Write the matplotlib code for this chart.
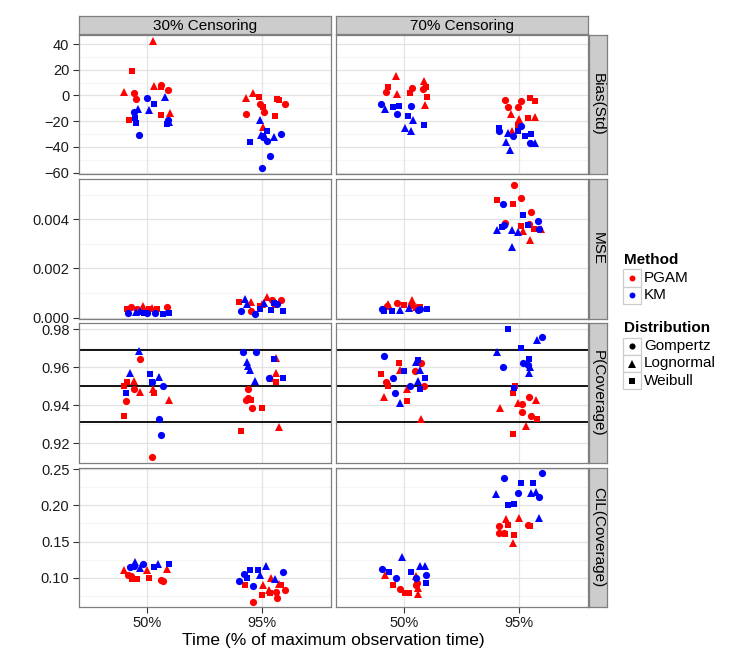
import numpy as np
import matplotlib.pyplot as plt
from matplotlib.patches import Rectangle

plt.rcParams['font.family'] = ['Liberation Sans', 'DejaVu Sans']

time_levels = ['50%', '95%']
censoring = ['30% Censoring', '70% Censoring']
measures = ['Bias(Std)', 'MSE', 'P(Coverage)', 'CIL(Coverage)']
methods = ['PGAM', 'KM']
method_codes = {'P': 'PGAM', 'K': 'KM'}
distributions = ['Gompertz', 'Lognormal', 'Weibull']
dist_codes = {'G': 'Gompertz', 'L': 'Lognormal', 'W': 'Weibull'}
coverage_lines = [0.9309, 0.95, 0.9691]

# (time, method, distribution, jitter, value)
bias_30 = [
    ('50%', 'P', 'L', 0.05, 42.3), ('50%', 'P', 'W', -0.13, 19.0), ('50%', 'P', 'L', -0.20, 3.0),
    ('50%', 'P', 'G', -0.12, 2.0), ('50%', 'P', 'G', -0.10, -2.6), ('50%', 'P', 'L', 0.06, 7.4),
    ('50%', 'P', 'G', 0.12, 8.5), ('50%', 'P', 'W', 0.12, 6.9), ('50%', 'P', 'G', 0.18, 4.1),
    ('50%', 'P', 'W', -0.16, -19.2), ('50%', 'P', 'W', 0.12, -14.9), ('50%', 'P', 'L', 0.20, -13.3),
    ('50%', 'K', 'G', 0.00, -1.8), ('50%', 'K', 'L', 0.15, -0.8), ('50%', 'K', 'W', 0.06, -6.7),
    ('50%', 'K', 'G', -0.12, -12.8), ('50%', 'K', 'L', -0.08, -10.8), ('50%', 'K', 'L', 0.01, -11.5),
    ('50%', 'K', 'W', -0.11, -17.2), ('50%', 'K', 'W', -0.10, -21.3), ('50%', 'K', 'G', 0.18, -19.2),
    ('50%', 'K', 'L', 0.19, -20.5), ('50%', 'K', 'W', 0.17, -22.3), ('50%', 'K', 'G', -0.07, -31.0),
    ('95%', 'P', 'L', -0.14, -1.8), ('95%', 'P', 'L', -0.08, 1.8), ('95%', 'P', 'W', -0.03, -0.8),
    ('95%', 'P', 'G', -0.02, -6.9), ('95%', 'P', 'W', 0.01, -9.0), ('95%', 'P', 'G', 0.02, -12.8),
    ('95%', 'P', 'G', -0.14, -14.1), ('95%', 'P', 'W', 0.13, -2.8), ('95%', 'P', 'W', 0.15, -3.3),
    ('95%', 'P', 'G', 0.20, -6.9), ('95%', 'P', 'W', 0.11, -15.6), ('95%', 'P', 'L', 0.01, -24.4),
    ('95%', 'K', 'L', -0.02, -18.7), ('95%', 'K', 'W', 0.04, -27.4), ('95%', 'K', 'L', -0.01, -30.8),
    ('95%', 'K', 'G', 0.01, -32.0), ('95%', 'K', 'L', 0.10, -32.6), ('95%', 'K', 'G', 0.16, -29.7),
    ('95%', 'K', 'G', 0.04, -35.1), ('95%', 'K', 'W', -0.11, -35.9), ('95%', 'K', 'G', 0.07, -46.9),
    ('95%', 'K', 'G', 0.00, -56.4), ('95%', 'K', 'W', 0.01, -31.5),
]
bias_70 = [
    ('50%', 'P', 'L', -0.07, 15.4), ('50%', 'P', 'W', -0.14, 6.9), ('50%', 'P', 'G', -0.16, 2.8),
    ('50%', 'P', 'L', -0.06, 0.8), ('50%', 'P', 'G', 0.07, 5.6), ('50%', 'P', 'W', 0.05, 1.8),
    ('50%', 'P', 'L', 0.17, 11.0), ('50%', 'P', 'G', 0.16, 4.8), ('50%', 'P', 'W', 0.19, 6.9),
    ('50%', 'P', 'W', 0.20, -0.8), ('50%', 'P', 'L', 0.18, -7.7), ('50%', 'P', 'L', 0.18, 8.5),
    ('50%', 'K', 'G', -0.20, -6.4), ('50%', 'K', 'L', -0.17, -10.5), ('50%', 'K', 'W', -0.10, -9.2),
    ('50%', 'K', 'W', -0.05, -8.5), ('50%', 'K', 'G', -0.06, -14.1), ('50%', 'K', 'G', 0.06, -7.9),
    ('50%', 'K', 'W', 0.03, -16.2), ('50%', 'K', 'L', 0.08, -18.7), ('50%', 'K', 'W', 0.17, -23.1),
    ('50%', 'K', 'L', 0.01, -25.6), ('50%', 'K', 'L', 0.06, -27.4),
    ('95%', 'P', 'G', -0.12, -3.8), ('95%', 'P', 'G', -0.09, -9.0), ('95%', 'P', 'G', 0.02, -4.4),
    ('95%', 'P', 'G', -0.01, -9.0), ('95%', 'P', 'W', 0.10, -2.0), ('95%', 'P', 'W', 0.14, -4.6),
    ('95%', 'P', 'L', -0.07, -14.6), ('95%', 'P', 'L', 0.00, -17.9), ('95%', 'P', 'W', 0.08, -17.2),
    ('95%', 'P', 'L', 0.14, -16.7), ('95%', 'P', 'W', -0.01, -23.1), ('95%', 'P', 'L', -0.06, -27.4),
    ('95%', 'K', 'W', -0.17, -24.9), ('95%', 'K', 'G', -0.17, -27.4), ('95%', 'K', 'G', -0.05, -31.5),
    ('95%', 'K', 'W', -0.01, -27.4), ('95%', 'K', 'G', 0.02, -23.8), ('95%', 'K', 'L', -0.09, -29.5),
    ('95%', 'K', 'L', -0.11, -35.9), ('95%', 'K', 'L', -0.08, -42.3), ('95%', 'K', 'W', 0.05, -31.5),
    ('95%', 'K', 'W', 0.11, -30.3), ('95%', 'K', 'G', 0.10, -36.7), ('95%', 'K', 'L', 0.14, -36.7),
]
mse_30 = [
    ('50%', 'P', 'W', -0.18, 0.00036), ('50%', 'P', 'G', -0.14, 0.00041), ('50%', 'P', 'L', -0.04, 0.00048),
    ('50%', 'P', 'W', 0.01, 0.00034), ('50%', 'P', 'W', 0.08, 0.00034), ('50%', 'P', 'G', 0.17, 0.00042),
    ('50%', 'P', 'L', 0.04, 0.00038), ('50%', 'P', 'G', -0.09, 0.00034),
    ('50%', 'K', 'G', -0.17, 0.00018), ('50%', 'K', 'L', -0.10, 0.00022), ('50%', 'K', 'L', -0.06, 0.00025),
    ('50%', 'K', 'W', -0.03, 0.00018), ('50%', 'K', 'G', 0.07, 0.00018), ('50%', 'K', 'W', 0.14, 0.00015),
    ('50%', 'K', 'W', 0.19, 0.00018), ('50%', 'K', 'G', 0.00, 0.00020),
    ('95%', 'P', 'W', -0.20, 0.00062), ('95%', 'P', 'L', -0.10, 0.00062), ('95%', 'P', 'G', -0.10, 0.00028),
    ('95%', 'P', 'W', -0.02, 0.00045), ('95%', 'P', 'L', 0.04, 0.00084), ('95%', 'P', 'G', 0.16, 0.00073),
    ('95%', 'P', 'W', 0.11, 0.00052), ('95%', 'P', 'L', 0.00, 0.00056), ('95%', 'P', 'G', 0.09, 0.00070),
    ('95%', 'K', 'L', -0.15, 0.00077), ('95%', 'K', 'L', -0.13, 0.00056), ('95%', 'K', 'G', -0.18, 0.00025),
    ('95%', 'K', 'G', -0.06, 0.00014), ('95%', 'K', 'W', -0.02, 0.00034), ('95%', 'K', 'L', 0.02, 0.00059),
    ('95%', 'K', 'W', 0.08, 0.00032), ('95%', 'K', 'W', 0.18, 0.00025), ('95%', 'K', 'G', 0.13, 0.00056),
    ('95%', 'K', 'W', 0.10, 0.00059),
]
mse_70 = [
    ('50%', 'P', 'L', -0.14, 0.00055), ('50%', 'P', 'G', -0.15, 0.00048), ('50%', 'P', 'G', -0.06, 0.00059),
    ('50%', 'P', 'W', 0.00, 0.00052), ('50%', 'P', 'L', 0.07, 0.00073), ('50%', 'P', 'G', 0.06, 0.00052),
    ('50%', 'P', 'W', 0.14, 0.00042), ('50%', 'P', 'L', 0.10, 0.00042),
    ('50%', 'K', 'G', -0.19, 0.00034), ('50%', 'K', 'W', -0.18, 0.00025), ('50%', 'K', 'W', -0.11, 0.00025),
    ('50%', 'K', 'L', -0.04, 0.00029), ('50%', 'K', 'L', 0.04, 0.00038), ('50%', 'K', 'G', 0.12, 0.00029),
    ('50%', 'K', 'W', 0.20, 0.00034), ('50%', 'K', 'G', 0.14, 0.00034),
    ('95%', 'P', 'G', -0.04, 0.00540), ('95%', 'P', 'W', -0.19, 0.00478), ('95%', 'P', 'G', 0.02, 0.00489),
    ('95%', 'P', 'W', -0.05, 0.00462), ('95%', 'P', 'G', 0.11, 0.00430), ('95%', 'P', 'G', -0.12, 0.00385),
    ('95%', 'P', 'W', 0.02, 0.00372), ('95%', 'P', 'L', 0.04, 0.00352), ('95%', 'P', 'W', 0.13, 0.00362),
    ('95%', 'P', 'L', 0.19, 0.00362), ('95%', 'P', 'L', 0.10, 0.00316), ('95%', 'P', 'G', 0.09, 0.00380),
    ('95%', 'K', 'G', -0.14, 0.00465), ('95%', 'K', 'W', 0.04, 0.00417), ('95%', 'K', 'G', 0.17, 0.00395),
    ('95%', 'K', 'W', 0.08, 0.00378), ('95%', 'K', 'G', 0.18, 0.00362), ('95%', 'K', 'G', -0.13, 0.00378),
    ('95%', 'K', 'L', -0.19, 0.00355), ('95%', 'K', 'L', -0.06, 0.00355), ('95%', 'K', 'L', -0.01, 0.00348),
    ('95%', 'K', 'L', -0.06, 0.00289), ('95%', 'K', 'W', -0.15, 0.00370),
]
cov_30 = [
    ('50%', 'P', 'G', -0.06, 0.9640), ('50%', 'P', 'W', -0.18, 0.9523), ('50%', 'P', 'W', -0.20, 0.9500),
    ('50%', 'P', 'L', -0.12, 0.9526), ('50%', 'P', 'G', -0.12, 0.9483), ('50%', 'P', 'L', -0.06, 0.9467),
    ('50%', 'P', 'L', 0.05, 0.9483), ('50%', 'P', 'W', 0.06, 0.9462), ('50%', 'P', 'G', -0.19, 0.9423),
    ('50%', 'P', 'L', 0.19, 0.9426), ('50%', 'P', 'W', -0.20, 0.9342), ('50%', 'P', 'G', 0.04, 0.9128),
    ('50%', 'K', 'L', -0.07, 0.9686), ('50%', 'K', 'L', -0.15, 0.9567), ('50%', 'K', 'W', 0.02, 0.9562),
    ('50%', 'K', 'L', 0.10, 0.9546), ('50%', 'K', 'G', 0.04, 0.9523), ('50%', 'K', 'G', 0.14, 0.9502),
    ('50%', 'K', 'W', -0.19, 0.9462), ('50%', 'K', 'G', 0.10, 0.9325), ('50%', 'K', 'G', 0.12, 0.9244),
    ('50%', 'K', 'W', 0.04, 0.9523),
    ('95%', 'P', 'L', 0.12, 0.9646), ('95%', 'P', 'L', 0.12, 0.9567), ('95%', 'P', 'L', 0.08, 0.9544),
    ('95%', 'P', 'W', 0.12, 0.9523), ('95%', 'P', 'G', -0.12, 0.9483), ('95%', 'P', 'G', -0.12, 0.9435),
    ('95%', 'P', 'W', -0.10, 0.9426), ('95%', 'P', 'G', -0.09, 0.9383), ('95%', 'P', 'W', 0.00, 0.9383),
    ('95%', 'P', 'W', -0.18, 0.9265), ('95%', 'P', 'L', 0.15, 0.9286), ('95%', 'P', 'G', -0.14, 0.9426),
    ('95%', 'K', 'G', -0.17, 0.9681), ('95%', 'K', 'G', -0.05, 0.9681), ('95%', 'K', 'L', -0.13, 0.9628),
    ('95%', 'K', 'L', -0.12, 0.9605), ('95%', 'K', 'L', -0.11, 0.9584), ('95%', 'K', 'L', -0.06, 0.9526),
    ('95%', 'K', 'W', 0.10, 0.9640), ('95%', 'K', 'G', 0.06, 0.9544), ('95%', 'K', 'W', 0.18, 0.9544),
]
cov_70 = [
    ('50%', 'P', 'W', -0.05, 0.9619), ('50%', 'P', 'L', -0.04, 0.9584), ('50%', 'P', 'G', 0.15, 0.9619),
    ('50%', 'P', 'G', 0.09, 0.9579), ('50%', 'P', 'W', -0.20, 0.9562), ('50%', 'P', 'G', -0.16, 0.9523),
    ('50%', 'P', 'W', -0.14, 0.9502), ('50%', 'P', 'G', 0.17, 0.9502), ('50%', 'P', 'L', 0.02, 0.9483),
    ('50%', 'P', 'L', -0.18, 0.9444), ('50%', 'P', 'W', 0.02, 0.9423), ('50%', 'P', 'L', 0.15, 0.9326),
    ('50%', 'K', 'G', -0.18, 0.9660), ('50%', 'K', 'L', 0.10, 0.9628), ('50%', 'K', 'W', 0.12, 0.9637),
    ('50%', 'K', 'L', 0.14, 0.9584), ('50%', 'K', 'W', 0.00, 0.9579), ('50%', 'K', 'G', -0.10, 0.9541),
    ('50%', 'K', 'W', 0.18, 0.9541), ('50%', 'K', 'L', 0.12, 0.9526), ('50%', 'K', 'G', 0.05, 0.9502),
    ('50%', 'K', 'W', 0.14, 0.9483), ('50%', 'K', 'G', -0.08, 0.9462), ('50%', 'K', 'L', -0.04, 0.9409),
    ('95%', 'P', 'W', -0.03, 0.9500), ('95%', 'P', 'W', -0.05, 0.9462), ('95%', 'P', 'L', -0.16, 0.9386),
    ('95%', 'P', 'L', -0.01, 0.9409), ('95%', 'P', 'G', 0.03, 0.9403), ('95%', 'P', 'G', 0.09, 0.9441),
    ('95%', 'P', 'L', 0.15, 0.9426), ('95%', 'P', 'G', 0.03, 0.9365), ('95%', 'P', 'G', 0.11, 0.9342),
    ('95%', 'P', 'W', 0.16, 0.9326), ('95%', 'P', 'L', 0.06, 0.9289), ('95%', 'P', 'W', -0.05, 0.9246),
    ('95%', 'K', 'L', -0.19, 0.9681), ('95%', 'K', 'W', 0.02, 0.9698), ('95%', 'K', 'W', -0.09, 0.9800),
    ('95%', 'K', 'G', 0.20, 0.9760), ('95%', 'K', 'L', 0.16, 0.9742), ('95%', 'K', 'W', 0.09, 0.9640),
    ('95%', 'K', 'G', 0.04, 0.9623), ('95%', 'K', 'G', 0.08, 0.9611), ('95%', 'K', 'L', 0.10, 0.9602),
    ('95%', 'K', 'G', -0.14, 0.9602), ('95%', 'K', 'L', 0.09, 0.9567), ('95%', 'K', 'W', -0.04, 0.9488),
]
cil_30 = [
    ('50%', 'P', 'L', -0.20, 0.1110), ('50%', 'P', 'G', -0.17, 0.1041), ('50%', 'P', 'W', -0.13, 0.0986),
    ('50%', 'P', 'W', -0.09, 0.0986), ('50%', 'P', 'L', 0.00, 0.1110), ('50%', 'P', 'W', 0.01, 0.0995),
    ('50%', 'P', 'L', 0.17, 0.1120), ('50%', 'P', 'G', 0.12, 0.0972), ('50%', 'P', 'G', 0.14, 0.0954),
    ('50%', 'P', 'G', -0.14, 0.1020),
    ('50%', 'K', 'G', -0.15, 0.1156), ('50%', 'K', 'L', -0.11, 0.1224), ('50%', 'K', 'G', -0.04, 0.1193),
    ('50%', 'K', 'L', -0.06, 0.1133), ('50%', 'K', 'W', 0.06, 0.1147), ('50%', 'K', 'L', 0.09, 0.1193),
    ('50%', 'K', 'W', 0.19, 0.1189), ('50%', 'K', 'G', -0.12, 0.1170),
    ('95%', 'P', 'W', -0.15, 0.0908), ('95%', 'P', 'L', 0.01, 0.0899), ('95%', 'P', 'L', 0.08, 0.0995),
    ('95%', 'P', 'W', 0.00, 0.0766), ('95%', 'P', 'L', 0.06, 0.0835), ('95%', 'P', 'W', 0.07, 0.0789),
    ('95%', 'P', 'G', 0.12, 0.0812), ('95%', 'P', 'W', 0.16, 0.0904), ('95%', 'P', 'G', 0.20, 0.0835),
    ('95%', 'P', 'G', 0.13, 0.0729), ('95%', 'P', 'G', -0.08, 0.0674), ('95%', 'P', 'L', 0.15, 0.0920),
    ('95%', 'K', 'G', -0.20, 0.0963), ('95%', 'K', 'G', -0.16, 0.1051), ('95%', 'K', 'W', -0.11, 0.1110),
    ('95%', 'K', 'W', -0.04, 0.1110), ('95%', 'K', 'W', -0.13, 0.0996), ('95%', 'K', 'L', -0.02, 0.1041),
    ('95%', 'K', 'L', 0.03, 0.1165), ('95%', 'K', 'G', -0.08, 0.0894), ('95%', 'K', 'G', 0.18, 0.1083),
    ('95%', 'K', 'L', 0.11, 0.0986),
]
cil_70 = [
    ('50%', 'P', 'L', -0.17, 0.1037), ('50%', 'P', 'W', -0.10, 0.0899), ('50%', 'P', 'G', -0.04, 0.0845),
    ('50%', 'P', 'W', 0.01, 0.0798), ('50%', 'P', 'W', 0.04, 0.0798), ('50%', 'P', 'L', 0.10, 0.1028),
    ('50%', 'P', 'G', 0.11, 0.0927), ('50%', 'P', 'L', 0.12, 0.0858), ('50%', 'P', 'L', 0.12, 0.0776),
    ('50%', 'P', 'G', 0.10, 0.0900),
    ('50%', 'K', 'L', -0.02, 0.1285), ('50%', 'K', 'G', -0.19, 0.1124), ('50%', 'K', 'W', -0.13, 0.1083),
    ('50%', 'K', 'G', -0.07, 0.0996), ('50%', 'K', 'W', 0.06, 0.1083), ('50%', 'K', 'L', 0.14, 0.1170),
    ('50%', 'K', 'L', 0.18, 0.1170), ('50%', 'K', 'G', 0.19, 0.1041), ('50%', 'K', 'W', 0.19, 0.0935),
    ('50%', 'K', 'G', 0.10, 0.0996),
    ('95%', 'P', 'L', -0.11, 0.1808), ('95%', 'P', 'G', -0.17, 0.1716), ('95%', 'P', 'W', -0.09, 0.1730),
    ('95%', 'P', 'L', 0.00, 0.1821), ('95%', 'P', 'G', -0.17, 0.1615), ('95%', 'P', 'G', -0.13, 0.1623),
    ('95%', 'P', 'W', -0.12, 0.1605), ('95%', 'P', 'W', -0.04, 0.1592), ('95%', 'P', 'L', -0.05, 0.1486),
    ('95%', 'P', 'G', 0.08, 0.1730), ('95%', 'P', 'W', 0.10, 0.1720),
    ('95%', 'K', 'G', -0.13, 0.2372), ('95%', 'K', 'G', 0.20, 0.2441), ('95%', 'K', 'W', 0.02, 0.2303),
    ('95%', 'K', 'W', 0.12, 0.2303), ('95%', 'K', 'L', -0.20, 0.2156), ('95%', 'K', 'G', -0.01, 0.2165),
    ('95%', 'K', 'L', 0.11, 0.2165), ('95%', 'K', 'L', 0.15, 0.2188), ('95%', 'K', 'G', 0.18, 0.2119),
    ('95%', 'K', 'W', -0.09, 0.2005), ('95%', 'K', 'W', -0.04, 0.2018), ('95%', 'K', 'L', 0.18, 0.1830),
]

panel_data = [[bias_30, bias_70], [mse_30, mse_70], [cov_30, cov_70], [cil_30, cil_70]]

# per-row y scales
y_limits = [(-61, 47), (-0.00006, 0.00565), (0.9095, 0.9832), (0.060, 0.2514)]
y_major = [[-60, -40, -20, 0, 20, 40], [0.0, 0.002, 0.004], [0.92, 0.94, 0.96, 0.98],
           [0.10, 0.15, 0.20, 0.25]]
y_minor = [[-50, -30, -10, 10, 30], [0.001, 0.003, 0.005], [0.93, 0.95, 0.97],
           [0.075, 0.125, 0.175, 0.225]]
y_fmt = ['{:.0f}', '{:.3f}', '{:.2f}', '{:.2f}']

method_colors = {'PGAM': '#FF0000', 'KM': '#0000FF'}
dist_markers = {'Gompertz': ('o', 5.2), 'Lognormal': ('^', 6.0), 'Weibull': ('s', 4.6)}

W, H = 750, 659
fig = plt.figure(figsize=(7.5, 6.59), dpi=100)


def px_axes(x0, y0, x1, y1):
    return fig.add_axes([x0 / W, 1 - y1 / H, (x1 - x0) / W, (y1 - y0) / H])


col_px = [(78.5, 331), (335.5, 587.5)]
row_px = [(35, 174), (179, 319), (323, 463), (468, 607)]
border = '#7f7f7f'
strip_fill = '#cccccc'

for r in range(4):
    for c in range(2):
        ax = px_axes(col_px[c][0], row_px[r][0], col_px[c][1], row_px[r][1])
        ax.set_xlim(0.4, 2.6)
        ax.set_ylim(*y_limits[r])
        # grid
        for v in y_minor[r]:
            ax.axhline(v, color='#f5f5f5', lw=0.8, zorder=0)
        for v in y_major[r]:
            ax.axhline(v, color='#e3e3e3', lw=0.9, zorder=0)
        for v in [1, 2]:
            ax.axvline(v, color='#e3e3e3', lw=0.9, zorder=0)
        if r == 2:
            for v in coverage_lines:
                ax.axhline(v, color='black', lw=1.3, zorder=1)
        for t, m, d, dx, v in panel_data[r][c]:
            mk, ms = dist_markers[dist_codes[d]]
            ax.plot(time_levels.index(t) + 1 + dx, v, marker=mk, ms=ms, mew=0,
                    color=method_colors[method_codes[m]], ls='none', zorder=3)
        for s in ax.spines.values():
            s.set_color(border)
            s.set_linewidth(0.9)
        ax.set_yticks(y_major[r])
        ax.set_xticks([1, 2])
        ax.tick_params(length=4.5, color='#333333', width=0.8, labelsize=10.5,
                       labelcolor='#1a1a1a', pad=2)
        if c == 0:
            ax.set_yticklabels([y_fmt[r].format(v).replace('-', '\u2212') for v in y_major[r]])
        else:
            ax.tick_params(axis='y', left=False, labelleft=False)
        if r == 3:
            ax.set_xticklabels(time_levels)
        else:
            ax.tick_params(axis='x', bottom=False, labelbottom=False)

# strips
for c in range(2):
    sa = px_axes(col_px[c][0], 16, col_px[c][1], 33.5)
    sa.set_xticks([])
    sa.set_yticks([])
    sa.set_facecolor(strip_fill)
    for s in sa.spines.values():
        s.set_color(border)
        s.set_linewidth(0.9)
    sa.text(0.5, 0.45, censoring[c], ha='center', va='center', fontsize=11, transform=sa.transAxes)
for r in range(4):
    sa = px_axes(589, row_px[r][0], 606.5, row_px[r][1])
    sa.set_xticks([])
    sa.set_yticks([])
    sa.set_facecolor(strip_fill)
    for s in sa.spines.values():
        s.set_color(border)
        s.set_linewidth(0.9)
    sa.text(0.5, 0.5, measures[r], ha='center', va='center', rotation=-90, fontsize=11,
            transform=sa.transAxes)

fig.text(333 / W, 1 - 640 / H, 'Time (% of maximum observation time)', ha='center', va='center',
         fontsize=12.5)

# legend drawn in pixel space
lg = fig.add_axes([0, 0, 1, 1], facecolor='none')
lg.set_xlim(0, W)
lg.set_ylim(H, 0)
lg.axis('off')


def legend_block(title, title_y, labels, key_top, colors, markers):
    lg.text(624, title_y, title, fontsize=11, fontweight='bold', va='center', ha='left')
    for i, lab in enumerate(labels):
        top = key_top + i * 17.2
        lg.add_patch(Rectangle((623, top), 17.5, 17.2, facecolor='white', edgecolor='#cccccc', lw=0.9))
        mk, ms = markers[i]
        lg.plot(631.75, top + 8.6, marker=mk, ms=ms * 0.85, mew=0, color=colors[i], ls='none')
        lg.text(644, top + 8.6, lab, fontsize=11, va='center', ha='left')


legend_block('Method', 259.5, methods, 269.3, [method_colors[m] for m in methods],
             [('o', 5.0)] * 2)
legend_block('Distribution', 328.5, distributions, 337.7, ['black'] * 3,
             [dist_markers[d] for d in distributions])

fig.savefig('out.png', dpi=100, facecolor='white')
